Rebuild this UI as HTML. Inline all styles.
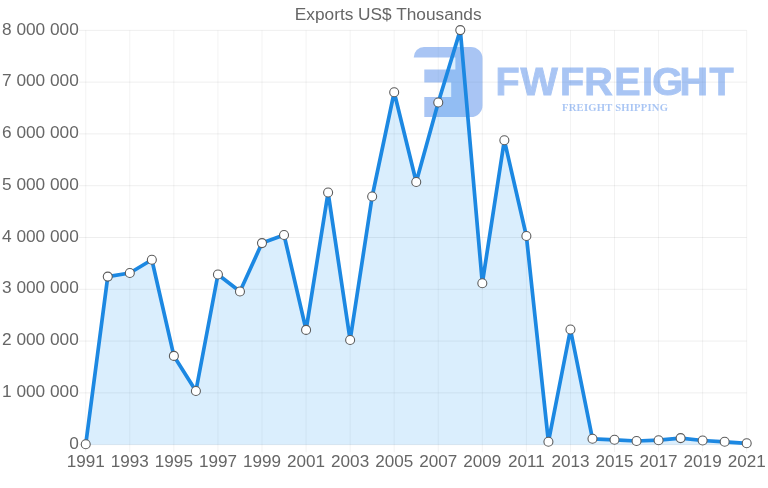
<!DOCTYPE html>
<html><head><meta charset="utf-8"><title>Exports US$ Thousands</title>
<style>
html,body{margin:0;padding:0;background:#fff;}
body{width:768px;height:488px;overflow:hidden;}
svg{display:block;}
text{font-family:"Liberation Sans",sans-serif;font-size:17.28px;fill:#666;}
.g line{stroke:#000;stroke-width:1;}.g .h{stroke-opacity:0.065}.g .v{stroke-opacity:0.05}
.wm{font-family:"Liberation Serif",serif;font-weight:bold;}
</style></head><body>
<svg width="768" height="488" viewBox="0 0 768 488">
<rect width="768" height="488" fill="#fff"/>

<text x="388.2" y="20.0" text-anchor="middle">Exports US$ Thousands</text>
<g class="g">
<line class="h" x1="78.75" y1="30.35" x2="746.70" y2="30.35"/>
<line class="h" x1="78.75" y1="82.14" x2="746.70" y2="82.14"/>
<line class="h" x1="78.75" y1="133.92" x2="746.70" y2="133.92"/>
<line class="h" x1="78.75" y1="185.71" x2="746.70" y2="185.71"/>
<line class="h" x1="78.75" y1="237.50" x2="746.70" y2="237.50"/>
<line class="h" x1="78.75" y1="289.29" x2="746.70" y2="289.29"/>
<line class="h" x1="78.75" y1="341.07" x2="746.70" y2="341.07"/>
<line class="h" x1="78.75" y1="392.86" x2="746.70" y2="392.86"/>
<line class="h" x1="78.75" y1="444.65" x2="746.70" y2="444.65"/>
<line class="v" x1="85.75" y1="30.35" x2="85.75" y2="452.15"/>
<line class="v" x1="129.81" y1="30.35" x2="129.81" y2="452.15"/>
<line class="v" x1="173.88" y1="30.35" x2="173.88" y2="452.15"/>
<line class="v" x1="217.94" y1="30.35" x2="217.94" y2="452.15"/>
<line class="v" x1="262.00" y1="30.35" x2="262.00" y2="452.15"/>
<line class="v" x1="306.07" y1="30.35" x2="306.07" y2="452.15"/>
<line class="v" x1="350.13" y1="30.35" x2="350.13" y2="452.15"/>
<line class="v" x1="394.19" y1="30.35" x2="394.19" y2="452.15"/>
<line class="v" x1="438.26" y1="30.35" x2="438.26" y2="452.15"/>
<line class="v" x1="482.32" y1="30.35" x2="482.32" y2="452.15"/>
<line class="v" x1="526.38" y1="30.35" x2="526.38" y2="452.15"/>
<line class="v" x1="570.45" y1="30.35" x2="570.45" y2="452.15"/>
<line class="v" x1="614.51" y1="30.35" x2="614.51" y2="452.15"/>
<line class="v" x1="658.57" y1="30.35" x2="658.57" y2="452.15"/>
<line class="v" x1="702.64" y1="30.35" x2="702.64" y2="452.15"/>
<line class="v" x1="746.70" y1="30.35" x2="746.70" y2="452.15"/>
</g>
<text x="78.8" y="34.55" text-anchor="end">8 000 000</text>
<text x="78.8" y="86.34" text-anchor="end">7 000 000</text>
<text x="78.8" y="138.12" text-anchor="end">6 000 000</text>
<text x="78.8" y="189.91" text-anchor="end">5 000 000</text>
<text x="78.8" y="241.70" text-anchor="end">4 000 000</text>
<text x="78.8" y="293.49" text-anchor="end">3 000 000</text>
<text x="78.8" y="345.27" text-anchor="end">2 000 000</text>
<text x="78.8" y="397.06" text-anchor="end">1 000 000</text>
<text x="78.8" y="448.85" text-anchor="end">0</text>
<text x="85.75" y="467.0" text-anchor="middle" style="font-size:17.1px">1991</text>
<text x="129.81" y="467.0" text-anchor="middle" style="font-size:17.1px">1993</text>
<text x="173.88" y="467.0" text-anchor="middle" style="font-size:17.1px">1995</text>
<text x="217.94" y="467.0" text-anchor="middle" style="font-size:17.1px">1997</text>
<text x="262.00" y="467.0" text-anchor="middle" style="font-size:17.1px">1999</text>
<text x="306.07" y="467.0" text-anchor="middle" style="font-size:17.1px">2001</text>
<text x="350.13" y="467.0" text-anchor="middle" style="font-size:17.1px">2003</text>
<text x="394.19" y="467.0" text-anchor="middle" style="font-size:17.1px">2005</text>
<text x="438.26" y="467.0" text-anchor="middle" style="font-size:17.1px">2007</text>
<text x="482.32" y="467.0" text-anchor="middle" style="font-size:17.1px">2009</text>
<text x="526.38" y="467.0" text-anchor="middle" style="font-size:17.1px">2011</text>
<text x="570.45" y="467.0" text-anchor="middle" style="font-size:17.1px">2013</text>
<text x="614.51" y="467.0" text-anchor="middle" style="font-size:17.1px">2015</text>
<text x="658.57" y="467.0" text-anchor="middle" style="font-size:17.1px">2017</text>
<text x="702.64" y="467.0" text-anchor="middle" style="font-size:17.1px">2019</text>
<text x="746.70" y="467.0" text-anchor="middle" style="font-size:17.1px">2021</text>
<g id="wm" opacity="0.47">
<path fill="#4a86e8" d="M424 47 H471 A11.5 11.5 0 0 1 482.5 58.5 V105.5 A11.5 11.5 0 0 1 471 117 H424.3 V97 H451.2 V82.6 H424.3 V69.5 H455.4 V57.6 H413.7 A10.3 10.6 0 0 1 424 47 Z"/>
<text transform="translate(0,94.6) scale(1.04,1)" x="476.42 500.58 538.54 561.74 590.60 617.32 627.21 653.36 682.28" y="0" style="font-size:38.0px;font-weight:bold;fill:#4a86e8;stroke:#4a86e8;stroke-width:0.9px">FWFREIGHT</text>
<text class="wm" x="562" y="111.2" style="font-size:10.6px;letter-spacing:0.23px;fill:#4a86e8">FREIGHT SHIPPING</text>
</g>
<path d="M85.75 444.65 L85.75 444.30 L107.78 276.60 L129.81 273.00 L151.85 259.75 L173.88 355.90 L195.91 391.00 L217.94 274.50 L239.97 291.50 L262.00 243.10 L284.04 235.00 L306.07 329.90 L328.10 192.50 L350.13 340.00 L372.16 196.50 L394.19 92.25 L416.23 182.00 L438.26 102.45 L460.29 30.10 L482.32 283.20 L504.35 140.30 L526.38 236.00 L548.42 441.80 L570.45 329.50 L592.48 438.80 L614.51 439.80 L636.54 441.00 L658.57 440.20 L680.61 438.10 L702.64 440.50 L724.67 441.80 L746.70 443.30 L746.70 444.65 Z" fill="#2196f3" fill-opacity="0.165"/>
<path d="M85.75 444.30 L107.78 276.60 L129.81 273.00 L151.85 259.75 L173.88 355.90 L195.91 391.00 L217.94 274.50 L239.97 291.50 L262.00 243.10 L284.04 235.00 L306.07 329.90 L328.10 192.50 L350.13 340.00 L372.16 196.50 L394.19 92.25 L416.23 182.00 L438.26 102.45 L460.29 30.10 L482.32 283.20 L504.35 140.30 L526.38 236.00 L548.42 441.80 L570.45 329.50 L592.48 438.80 L614.51 439.80 L636.54 441.00 L658.57 440.20 L680.61 438.10 L702.64 440.50 L724.67 441.80 L746.70 443.30" fill="none" stroke="#1c88e2" stroke-width="3.7" stroke-linejoin="round" stroke-linecap="butt"/>
<g fill="#fff" stroke="#5c5c5c" stroke-width="1.1">
<circle cx="85.75" cy="444.30" r="4.5"/>
<circle cx="107.78" cy="276.60" r="4.5"/>
<circle cx="129.81" cy="273.00" r="4.5"/>
<circle cx="151.85" cy="259.75" r="4.5"/>
<circle cx="173.88" cy="355.90" r="4.5"/>
<circle cx="195.91" cy="391.00" r="4.5"/>
<circle cx="217.94" cy="274.50" r="4.5"/>
<circle cx="239.97" cy="291.50" r="4.5"/>
<circle cx="262.00" cy="243.10" r="4.5"/>
<circle cx="284.04" cy="235.00" r="4.5"/>
<circle cx="306.07" cy="329.90" r="4.5"/>
<circle cx="328.10" cy="192.50" r="4.5"/>
<circle cx="350.13" cy="340.00" r="4.5"/>
<circle cx="372.16" cy="196.50" r="4.5"/>
<circle cx="394.19" cy="92.25" r="4.5"/>
<circle cx="416.23" cy="182.00" r="4.5"/>
<circle cx="438.26" cy="102.45" r="4.5"/>
<circle cx="460.29" cy="30.10" r="4.5"/>
<circle cx="482.32" cy="283.20" r="4.5"/>
<circle cx="504.35" cy="140.30" r="4.5"/>
<circle cx="526.38" cy="236.00" r="4.5"/>
<circle cx="548.42" cy="441.80" r="4.5"/>
<circle cx="570.45" cy="329.50" r="4.5"/>
<circle cx="592.48" cy="438.80" r="4.5"/>
<circle cx="614.51" cy="439.80" r="4.5"/>
<circle cx="636.54" cy="441.00" r="4.5"/>
<circle cx="658.57" cy="440.20" r="4.5"/>
<circle cx="680.61" cy="438.10" r="4.5"/>
<circle cx="702.64" cy="440.50" r="4.5"/>
<circle cx="724.67" cy="441.80" r="4.5"/>
<circle cx="746.70" cy="443.30" r="4.5"/>
</g>
</svg></body></html>
